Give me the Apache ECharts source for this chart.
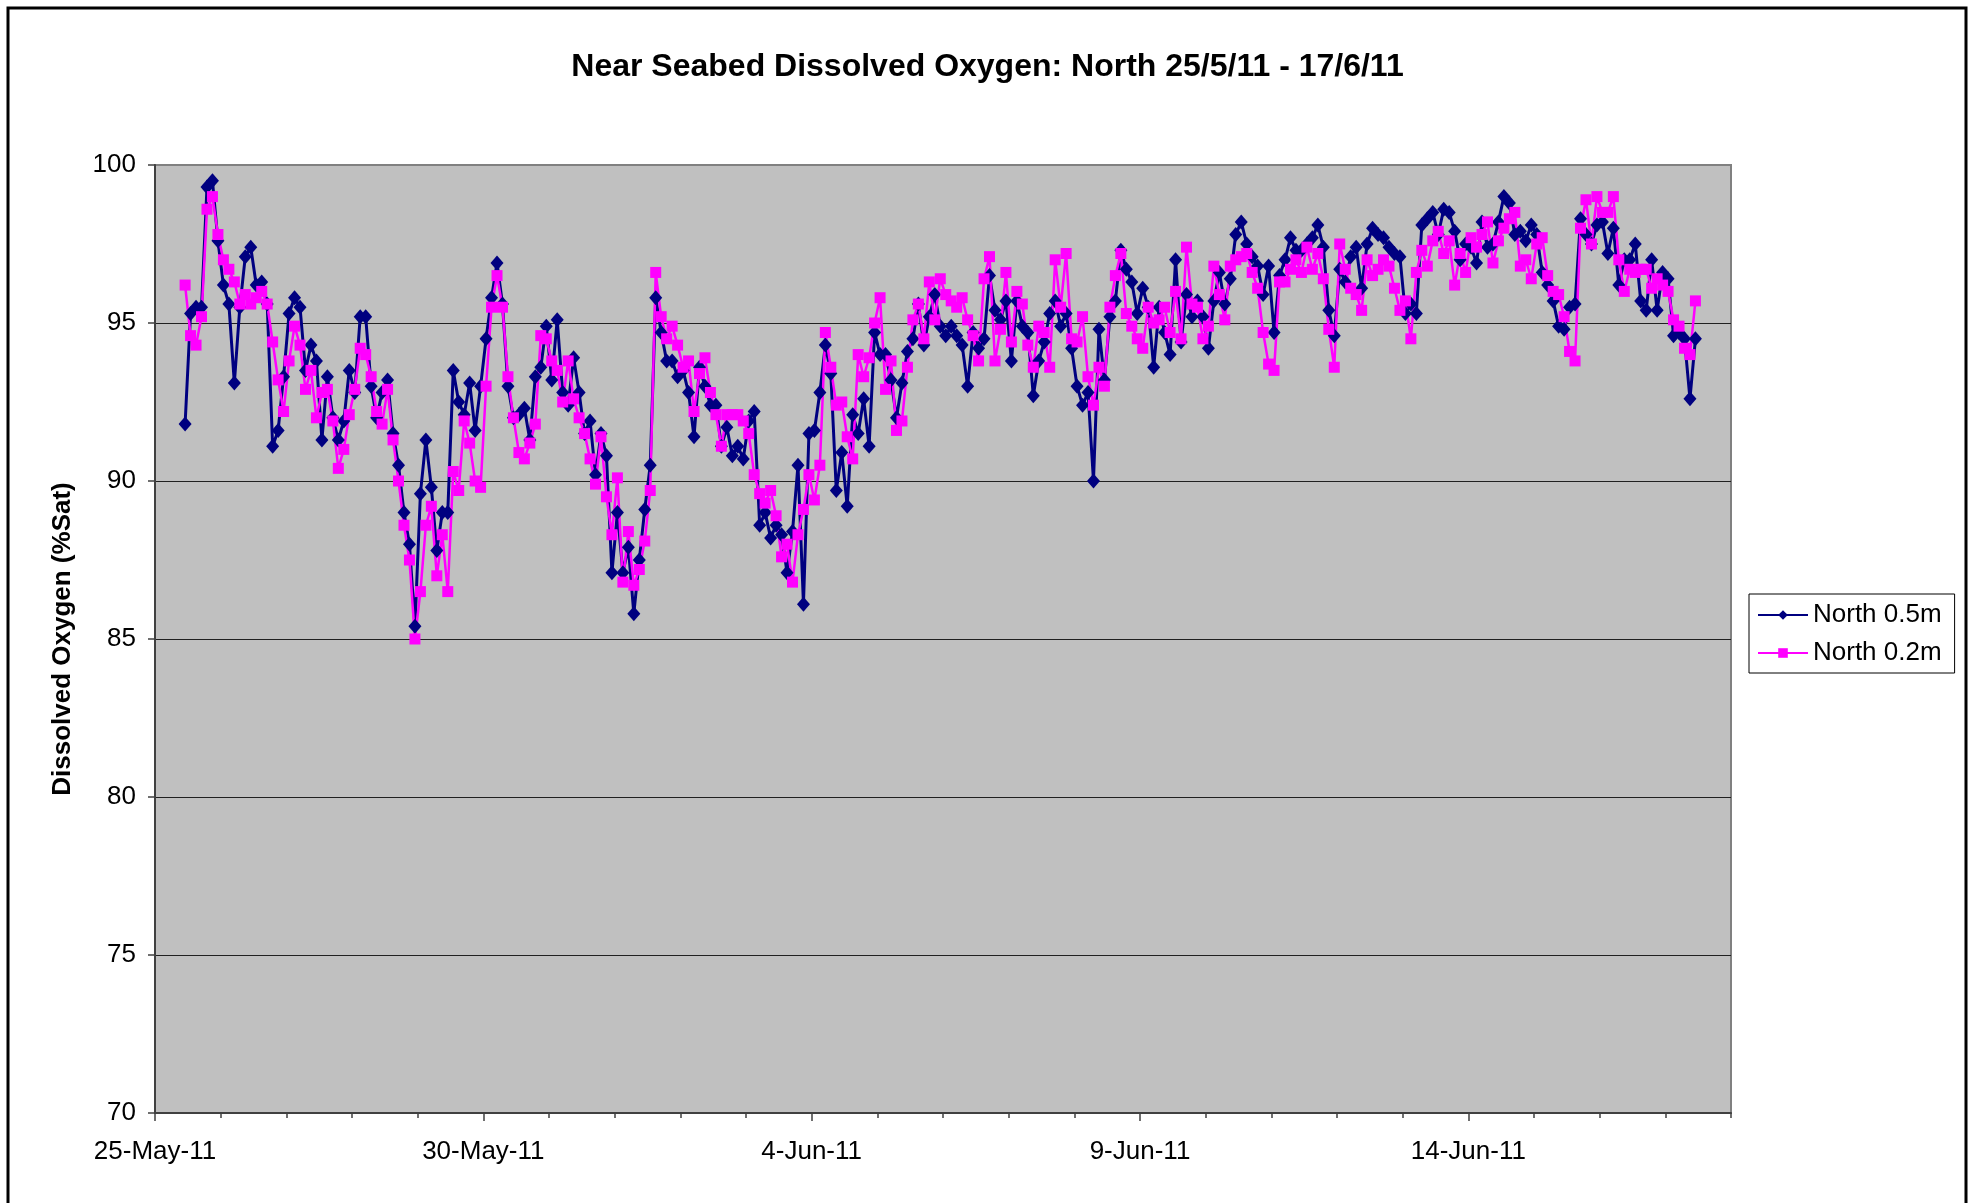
<!DOCTYPE html>
<html>
<head>
<meta charset="utf-8">
<title>Near Seabed Dissolved Oxygen</title>
<script src="https://cdn.jsdelivr.net/npm/echarts@6/dist/echarts.min.js"></script>
<style>
  html, body { margin: 0; padding: 0; background: #fff; }
  #chart { width: 1975px; height: 1203px; }
</style>
</head>
<body>
<div id="chart"></div>
<script>
// logger readings, one every 2 hours from 25-May-11 11:00 (x axis is days since 25-May-11 00:00)
const firstHour = 11;
const stepHours = 2;

// North 0.5m (%Sat)
const north05 = [
  91.8, 95.3, 95.5, 95.5, 99.3, 99.5, 97.6, 96.2, 95.6, 93.1,
  95.5, 97.1, 97.4, 96.2, 96.3, 95.6, 91.1, 91.6, 93.3, 95.3,
  95.8, 95.5, 93.5, 94.3, 93.8, 91.3, 93.3, 92.0, 91.3, 91.9,
  93.5, 92.8, 95.2, 95.2, 93.0, 92.0, 92.8, 93.2, 91.5, 90.5,
  89.0, 88.0, 85.4, 89.6, 91.3, 89.8, 87.8, 89.0, 89.0, 93.5,
  92.5, 92.1, 93.1, 91.6, 93.0, 94.5, 95.8,
  96.9, 95.6, 93.0, 92.0, 92.1, 92.3, 91.3, 93.3, 93.6, 94.9,
  93.2, 95.1, 92.8, 92.4, 93.9, 92.8, 91.5, 91.9, 90.2, 91.5,
  90.8, 87.1, 89.0, 87.1, 87.9, 85.8, 87.5, 89.1, 90.5, 95.8,
  94.7, 93.8, 93.8, 93.3, 93.5, 92.8, 91.4, 93.6, 93.0, 92.4,
  92.4, 91.1, 91.7, 90.8, 91.1, 90.7, 91.9, 92.2, 88.6, 89.0,
  88.2, 88.6, 88.3, 87.1, 88.4, 90.5, 86.1, 91.5,
  91.6, 92.8, 94.3, 93.4, 89.7, 90.9, 89.2, 92.1, 91.5, 92.6,
  91.1, 94.7, 94.0, 94.0, 93.2, 92.0, 93.1, 94.1, 94.5, 95.6,
  94.3, 95.2, 95.9, 94.9, 94.6, 94.9, 94.6, 94.3, 93.0, 94.7,
  94.2, 94.5, 96.5, 95.4, 95.1, 95.7, 93.8, 95.7, 94.9, 94.7,
  92.7, 93.8, 94.4, 95.3, 95.7, 94.9, 95.3, 94.2, 93.0, 92.4,
  92.8, 90.0, 94.8, 93.2, 95.2, 95.7, 97.3,
  96.7, 96.3, 95.3, 96.1, 95.5, 93.6, 95.5, 94.7, 94.0, 97.0,
  94.4, 95.9, 95.2, 95.7, 95.2, 94.2, 95.7, 96.6, 95.6, 96.4,
  97.8, 98.2, 97.5, 97.1, 96.8, 95.9, 96.8, 94.7, 96.5, 97.0,
  97.7, 97.3, 97.3, 97.5, 97.7, 98.1, 97.4, 95.4, 94.6, 96.7,
  96.3, 97.1, 97.4, 96.1, 97.5, 98.0, 97.8, 97.7, 97.4, 97.2,
  97.1, 95.3, 95.6, 95.3, 98.1, 98.3, 98.5, 97.8,
  98.6, 98.5, 97.9, 97.0, 97.5, 97.4, 96.9, 98.2, 97.4, 97.5,
  98.2, 99.0, 98.8, 97.8, 97.9, 97.6, 98.1, 97.8, 96.6, 96.2,
  95.7, 94.9, 94.8, 95.5, 95.6, 98.3, 97.8, 97.5, 98.1, 98.2,
  97.2, 98.0, 96.2, 97.0, 97.0, 97.5, 95.7, 95.4, 97.0, 95.4,
  96.6, 96.4, 94.6, 94.7, 94.5, 92.6, 94.5
];

// North 0.2m (%Sat)
const north02 = [
  96.2, 94.6, 94.3, 95.2, 98.6, 99.0, 97.8, 97.0, 96.7, 96.3,
  95.6, 95.9, 95.6, 95.8, 96.0, 95.6, 94.4, 93.2, 92.2, 93.8,
  94.9, 94.3, 92.9, 93.5, 92.0, 92.8, 92.9, 91.9, 90.4, 91.0,
  92.1, 92.9, 94.2, 94.0, 93.3, 92.2, 91.8, 92.9, 91.3, 90.0,
  88.6, 87.5, 85.0, 86.5, 88.6, 89.2, 87.0, 88.3, 86.5, 90.3,
  89.7, 91.9, 91.2, 90.0, 89.8, 93.0, 95.5,
  96.5, 95.5, 93.3, 92.0, 90.9, 90.7, 91.2, 91.8, 94.6, 94.5,
  93.8, 93.5, 92.5, 93.8, 92.6, 92.0, 91.5, 90.7, 89.9, 91.4,
  89.5, 88.3, 90.1, 86.8, 88.4, 86.7, 87.2, 88.1, 89.7, 96.6,
  95.2, 94.5, 94.9, 94.3, 93.6, 93.8, 92.2, 93.4, 93.9, 92.8,
  92.1, 91.1, 92.1, 92.1, 92.1, 91.9, 91.5, 90.2, 89.6, 89.3,
  89.7, 88.9, 87.6, 88.0, 86.8, 88.3, 89.1, 90.2,
  89.4, 90.5, 94.7, 93.6, 92.4, 92.5, 91.4, 90.7, 94.0, 93.3,
  93.9, 95.0, 95.8, 92.9, 93.8, 91.6, 91.9, 93.6, 95.1, 95.6,
  94.5, 96.3, 95.1, 96.4, 95.9, 95.7, 95.5, 95.8, 95.1, 94.6,
  93.8, 96.4, 97.1, 93.8, 94.8, 96.6, 94.4, 96.0, 95.6, 94.3,
  93.6, 94.9, 94.7, 93.6, 97.0, 95.5, 97.2, 94.5, 94.4, 95.2,
  93.3, 92.4, 93.6, 93.0, 95.5, 96.5, 97.2,
  95.3, 94.9, 94.5, 94.2, 95.5, 95.0, 95.1, 95.5, 94.7, 96.0,
  94.5, 97.4, 95.6, 95.5, 94.5, 94.9, 96.8, 95.9, 95.1, 96.8,
  97.0, 97.1, 97.2, 96.6, 96.1, 94.7, 93.7, 93.5, 96.3, 96.3,
  96.7, 97.0, 96.6, 97.4, 96.7, 97.2, 96.4, 94.8, 93.6, 97.5,
  96.7, 96.1, 95.9, 95.4, 97.0, 96.5, 96.7, 97.0, 96.8, 96.1,
  95.4, 95.7, 94.5, 96.6, 97.3, 96.8, 97.6, 97.9,
  97.2, 97.6, 96.2, 97.2, 96.6, 97.7, 97.4, 97.8, 98.2, 96.9,
  97.6, 98.0, 98.3, 98.5, 96.8, 97.0, 96.4, 97.5, 97.7, 96.5,
  96.0, 95.9, 95.2, 94.1, 93.8, 98.0, 98.9, 97.5, 99.0, 98.5,
  98.5, 99.0, 97.0, 96.0, 96.7, 96.6, 96.7, 96.7, 96.1, 96.4,
  96.2, 96.0, 95.1, 94.9, 94.2, 94.0, 95.7
];

const dayTicks = [0, 5, 10, 15, 20];
const dayLabels = ["25-May-11", "30-May-11", "4-Jun-11", "9-Jun-11", "14-Jun-11"];
const minorDays = [1, 2, 3, 4, 6, 7, 8, 9, 11, 12, 13, 14, 16, 17, 18, 19, 21, 22, 23, 24];

const font = "'Liberation Sans', Arial, Helvetica, sans-serif";
const axisColor = "#404040";

function toPoints(values) {
  return values.map(function(v, i) {
    return [(firstHour + stepHours * i) / 24, v];
  });
}

const myChart = echarts.init(document.getElementById("chart"));

const option = {
  animation: false,
  backgroundColor: "#fff",
  textStyle: { fontFamily: font },
  title: {
    text: "Near Seabed Dissolved Oxygen: North 25/5/11 - 17/6/11",
    left: "center",
    top: 51,
    padding: 0,
    textStyle: { fontFamily: font, fontSize: 32, fontWeight: "bold", color: "#000" }
  },
  graphic: [
    {
      type: "rect",
      shape: { x: 8, y: 8, width: 1958, height: 1230 },
      style: { fill: "none", stroke: "#000", lineWidth: 3 },
      silent: true
    }
  ],
  legend: {
    orient: "vertical",
    left: 1749,
    top: 594,
    itemWidth: 50,
    itemHeight: 12,
    itemGap: 12,
    padding: [8, 13, 7, 8],
    borderColor: "#000",
    borderWidth: 1,
    backgroundColor: "#fff",
    textStyle: { fontFamily: font, fontSize: 26, color: "#000" },
    data: ["North 0.5m", "North 0.2m"]
  },
  grid: {
    left: 155,
    right: 244,
    top: 165,
    bottom: 90,
    show: true,
    backgroundColor: "#C0C0C0",
    borderColor: "#808080",
    borderWidth: 2
  },
  xAxis: [
    {
      type: "value",
      min: 0,
      max: 24,
      interval: 5,
      position: "bottom",
      axisLine: { lineStyle: { color: axisColor, width: 2 } },
      axisTick: { customValues: dayTicks, length: 8, lineStyle: { color: axisColor, width: 1.5 } },
      axisLabel: {
        customValues: dayTicks,
        formatter: function(v) { return dayLabels[dayTicks.indexOf(v)]; },
        fontFamily: font,
        fontSize: 26,
        color: "#000",
        margin: 26
      },
      splitLine: { show: false }
    },
    {
      type: "value",
      min: 0,
      max: 24,
      position: "bottom",
      axisLine: { show: false },
      axisTick: { customValues: minorDays, length: 5, lineStyle: { color: axisColor, width: 1.5 } },
      axisLabel: { show: false },
      splitLine: { show: false }
    }
  ],
  yAxis: {
    type: "value",
    min: 70,
    max: 100,
    interval: 5,
    name: "Dissolved Oxygen (%Sat)",
    nameLocation: "middle",
    nameGap: 79,
    nameTextStyle: { fontFamily: font, fontSize: 26, fontWeight: "bold", color: "#000" },
    axisLine: { show: true, lineStyle: { color: axisColor, width: 2 } },
    axisTick: { show: true, length: 7, lineStyle: { color: axisColor, width: 1.5 } },
    axisLabel: { fontFamily: font, fontSize: 26, color: "#000", margin: 19 },
    splitLine: { show: true, showMaxLine: false, lineStyle: { color: "#202020", width: 1 } }
  },
  series: [
    {
      name: "North 0.5m",
      type: "line",
      xAxisIndex: 0,
      data: toPoints(north05),
      symbol: "diamond",
      symbolSize: [13, 15],
      color: "#000080",
      lineStyle: { color: "#000080", width: 3 },
      itemStyle: { color: "#000080" }
    },
    {
      name: "North 0.2m",
      type: "line",
      xAxisIndex: 0,
      data: toPoints(north02),
      symbol: "rect",
      symbolSize: 11,
      color: "#FF00FF",
      lineStyle: { color: "#FF00FF", width: 2.5 },
      itemStyle: { color: "#FF00FF" }
    }
  ]
};

myChart.setOption(option);
</script>
</body>
</html>
